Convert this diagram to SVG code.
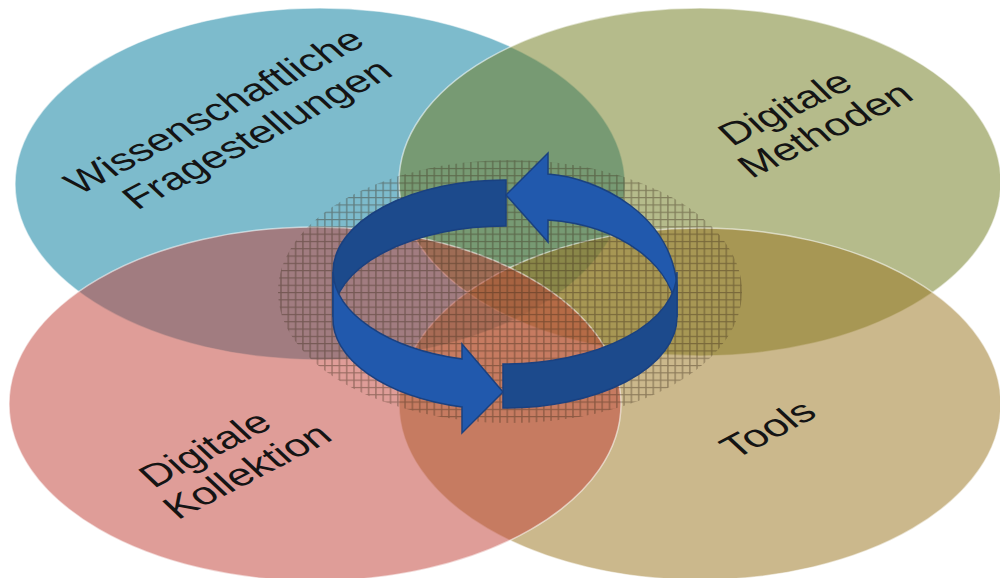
<svg xmlns="http://www.w3.org/2000/svg" width="1000" height="578" viewBox="0 0 1000 578">
  <defs>
    <style>
      .circ { stroke: #ffffff; stroke-opacity: 0.55; stroke-width: 1.5; }
      .lbl { font-family: "Liberation Sans", Arial, sans-serif; font-size: 45px; fill: #141414; text-anchor: middle; }
      .arr { stroke: #1A4180; stroke-width: 1.5; stroke-linejoin: miter; }
      .dark { fill: #1C4A8C; }
      .light { fill: #2159AD; }
    </style>
    <pattern id="grid" patternUnits="userSpaceOnUse" width="7.3" height="7.3">
      <path d="M0 0.6 H7.3 M3.6 0 V7.3" stroke="#3a2818" stroke-opacity="0.42" stroke-width="1.3" fill="none"/>
    </pattern>
  </defs>
  <rect width="1000" height="578" fill="#ffffff"/>

  <g id="node-fragestellungen">
    <ellipse class="circ" cx="320" cy="184" rx="305" ry="176" fill="#057C9D" fill-opacity="0.52"/>
  </g>
  <g id="node-methoden">
    <ellipse class="circ" cx="700" cy="182" rx="301" ry="174" fill="#717C20" fill-opacity="0.52"/>
  </g>
  <g id="node-tools">
    <ellipse class="circ" cx="700" cy="404" rx="301" ry="176" fill="#9B7722" fill-opacity="0.52"/>
  </g>
  <g id="node-kollektion">
    <ellipse class="circ" cx="315" cy="404" rx="306" ry="177" fill="#C24339" fill-opacity="0.52"/>
  </g>

  <g id="center-grid">
    <ellipse cx="510" cy="291.5" rx="232" ry="131.5" fill="url(#grid)"/>
  </g>

  <g id="labels">
    <text class="lbl" transform="translate(215 112) scale(1 0.7) rotate(-37)" x="0" y="13.5">Wissenschaftliche</text>
    <text class="lbl" transform="translate(258 135) scale(1 0.7) rotate(-37)" x="0" y="13.5">Fragestellungen</text>
    <text class="lbl" transform="translate(786 109) scale(1 0.7) rotate(-35)" x="0" y="13.5">Digitale</text>
    <text class="lbl" transform="translate(826 131) scale(1 0.7) rotate(-35)" x="0" y="13.5">Methoden</text>
    <text class="lbl" transform="translate(206 450) scale(1 0.7) rotate(-36.5)" x="0" y="13.5">Digitale</text>
    <text class="lbl" transform="translate(248 472) scale(1 0.7) rotate(-36.5)" x="0" y="13.5">Kollektion</text>
    <text class="lbl" transform="translate(769 430) scale(1 0.7) rotate(-37)" x="0" y="13.5">Tools</text>
  </g>

  <g id="connectors">
    <path class="arr dark" d="M506,180 A172,92 0 0 0 333,272 L333,317 A172,91 0 0 1 506,226 Z"/>
    <path class="arr light" d="M548,174 L548,153 L506,195 L548,242 L548,220 C620,225 675,265 677,317 L677,285 C670,215 600,178 548,174 Z"/>
    <path class="arr light" d="M333,272 A172,92 0 0 0 462,359 L462,344 L503,392 L462,433 L462,407 A172,91 0 0 1 333,317 Z"/>
    <path class="arr dark" d="M503,364 A172,92 0 0 0 677,272 L677,317 A172,91 0 0 1 503,408 Z"/>
  </g>
</svg>
